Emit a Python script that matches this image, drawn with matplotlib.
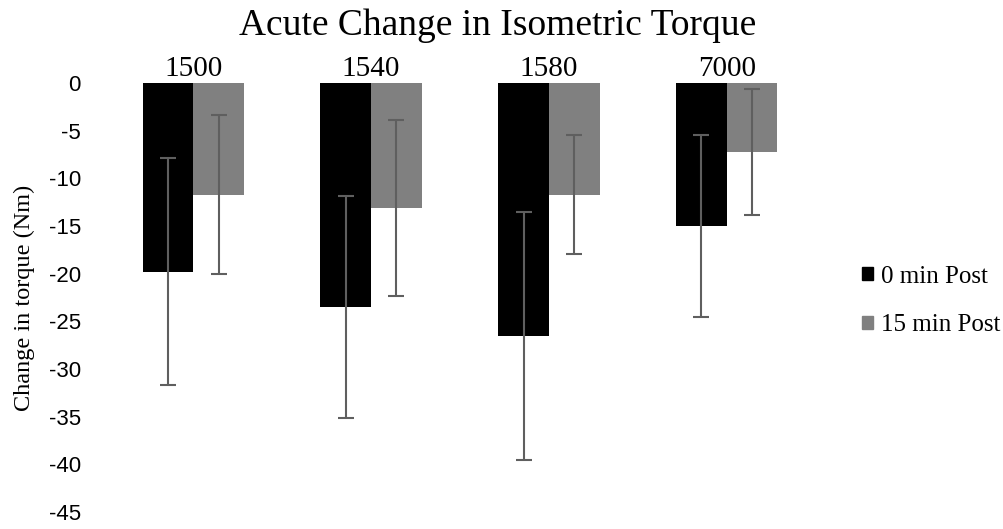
import numpy as np
import matplotlib
matplotlib.use("Agg")
import matplotlib.pyplot as plt
from matplotlib.patches import Patch

# mean change in torque (Nm) and error (Nm) per protocol
categories = ["1500", "1540", "1580", "7000"]
post0 = [-19.8, -23.5, -26.5, -15.0]
post0_err = [11.9, 11.6, 13.0, 9.5]
post15 = [-11.7, -13.1, -11.7, -7.2]
post15_err = [8.3, 9.2, 6.2, 6.6]
series_names = ["0 min Post", "15 min Post"]
y_ticks = [0, -5, -10, -15, -20, -25, -30, -35, -40, -45]

serif = "Liberation Serif"
sans = "Liberation Sans"

fig = plt.figure(figsize=(10.04, 5.29), dpi=100)
ax = fig.add_axes([104.5 / 1004, 17 / 529, 711 / 1004, 429 / 529])

x = np.arange(len(categories))
w = 0.285
err_kw = dict(fmt="none", ecolor="#5f5f5f", elinewidth=1.5, capsize=5.8, capthick=1.5)

ax.bar(x - w / 2, post0, w, color="#000000", zorder=2)
ax.bar(x + w / 2, post15, w, color="#808080", zorder=2)
ax.errorbar(x - w / 2, post0, yerr=post0_err, zorder=3, **err_kw)
ax.errorbar(x + w / 2, post15, yerr=post15_err, zorder=3, **err_kw)

ax.set_xlim(-0.5, len(categories) - 0.5)
ax.set_ylim(-45, 0)
ax.set_yticks(y_ticks)
ax.set_yticklabels([str(t) for t in y_ticks], fontfamily=sans, fontsize=16)
ax.tick_params(axis="y", length=0, pad=17)

ax.xaxis.set_ticks_position("top")
ax.set_xticks(x)
ax.set_xticklabels(categories, fontfamily=serif, fontsize=21)
ax.tick_params(axis="x", length=0, pad=1)

for s in ax.spines.values():
    s.set_visible(False)

ax.set_ylabel("Change in torque (Nm)", fontfamily=serif, fontsize=17.5, labelpad=10)

fig.text(498 / 1004, 1 - 26 / 529, "Acute Change in Isometric Torque",
         fontfamily=serif, fontsize=27, ha="center", va="center")

handles = [Patch(color="#000000"), Patch(color="#808080")]
leg = fig.legend(handles, series_names, loc="center left",
                 bbox_to_anchor=(852 / 1004, 1 - 301 / 529),
                 frameon=False, prop=dict(family=serif, size=18),
                 handlelength=0.45, handleheight=0.45, handletextpad=0.3,
                 labelspacing=1.07, borderaxespad=0)

fig.savefig("out.png", dpi=100)
